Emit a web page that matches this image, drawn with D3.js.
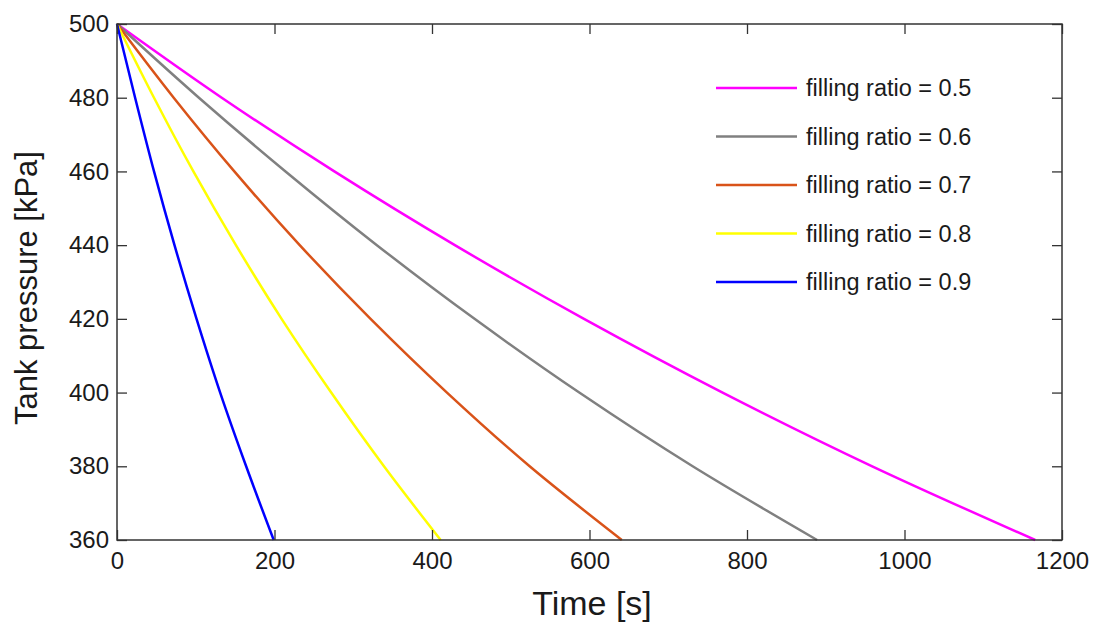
<!DOCTYPE html>
<html><head><meta charset="utf-8">
<script src="https://cdn.jsdelivr.net/npm/d3@7"></script>
<style>body{margin:0;background:#fff;} text{font-family:"Liberation Sans",Arial,sans-serif;fill:#1a1a1a;}</style>
</head><body>
<svg id="c" width="1093" height="623"></svg>
<script>
// Data: time [s] at which each series reaches each pressure level
const pressures = [500, 480, 460, 440, 420, 400, 380, 360];
const t05 = [0, 133, 276, 429, 593, 769, 959, 1166];
const t06 = [0, 104, 214, 330, 454, 587, 731, 889];
const t07 = [0, 72, 149, 232, 322, 419, 524, 641];
const t08 = [0, 47, 97, 151, 209, 272, 339, 411];
const t09 = [0, 23, 47, 73, 101, 131, 164, 199];
const seriesNames = ["filling ratio = 0.5","filling ratio = 0.6","filling ratio = 0.7","filling ratio = 0.8","filling ratio = 0.9"];
const seriesColors = ["#ff00ff","#808080","#d95319","#ffff00","#0000ff"];
const xTicks = [0, 200, 400, 600, 800, 1000, 1200];
const yTicks = [360, 380, 400, 420, 440, 460, 480, 500];

const series = [t05, t06, t07, t08, t09].map((ts, i) => ({
  name: seriesNames[i], color: seriesColors[i],
  pts: ts.map((t, j) => [t, pressures[j]])
}));

const svg = d3.select("#c");
const L = 117, R = 1062, T = 24, B = 540;
const x = d3.scaleLinear().domain([0, 1200]).range([L, R]);
const y = d3.scaleLinear().domain([360, 500]).range([B, T]);

const line = d3.line().x(d => x(d[0])).y(d => y(d[1])).curve(d3.curveMonotoneY);
const g = svg.append("g");
series.forEach(s => {
  g.append("path").datum(s.pts).attr("d", line)
    .attr("fill", "none").attr("stroke", s.color).attr("stroke-width", 2.5);
});

// axes (ticks inward, mirrored)
const tickLen = 10;
function styleAxis(sel) {
  sel.select(".domain").remove();
  sel.selectAll("line").attr("stroke", "#333").attr("stroke-width", 1.3);
}
const xb = svg.append("g").attr("transform", `translate(0,${B})`)
  .call(d3.axisBottom(x).tickValues(xTicks).tickSizeInner(-tickLen).tickSizeOuter(0).tickPadding(12).tickFormat(d3.format("d")));
styleAxis(xb);
xb.selectAll("text").attr("font-size", 24).attr("fill", "#1a1a1a").style("font-family", "Liberation Sans, Arial, sans-serif");
const xt = svg.append("g").attr("transform", `translate(0,${T})`)
  .call(d3.axisTop(x).tickValues(xTicks).tickSizeInner(-tickLen).tickSizeOuter(0).tickFormat(""));
styleAxis(xt);
const yl = svg.append("g").attr("transform", `translate(${L},0)`)
  .call(d3.axisLeft(y).tickValues(yTicks).tickSizeInner(-tickLen).tickSizeOuter(0).tickPadding(8).tickFormat(d3.format("d")));
styleAxis(yl);
yl.selectAll("text").attr("font-size", 24).attr("fill", "#1a1a1a").style("font-family", "Liberation Sans, Arial, sans-serif");
const yr = svg.append("g").attr("transform", `translate(${R},0)`)
  .call(d3.axisRight(y).tickValues(yTicks).tickSizeInner(-tickLen).tickSizeOuter(0).tickFormat(""));
styleAxis(yr);

// frame
svg.append("rect").attr("x", L).attr("y", T).attr("width", R - L).attr("height", B - T)
  .attr("fill", "none").attr("stroke", "#333").attr("stroke-width", 1.5);

// axis titles
svg.append("text").attr("x", 592).attr("y", 615).attr("text-anchor", "middle")
  .attr("font-size", 34).text("Time [s]");
svg.append("text").attr("transform", `translate(37,288) rotate(-90)`)
  .attr("text-anchor", "middle").attr("font-size", 31).text("Tank pressure [kPa]");

// legend
const lg = svg.append("g");
series.forEach((s, i) => {
  const yy = 88 + i * 48.5;
  lg.append("line").attr("x1", 716).attr("x2", 797).attr("y1", yy).attr("y2", yy)
    .attr("stroke", s.color).attr("stroke-width", 2.5);
  lg.append("text").attr("x", 806).attr("y", yy + 8).attr("font-size", 23.5).text(s.name);
});
</script>
</body></html>
